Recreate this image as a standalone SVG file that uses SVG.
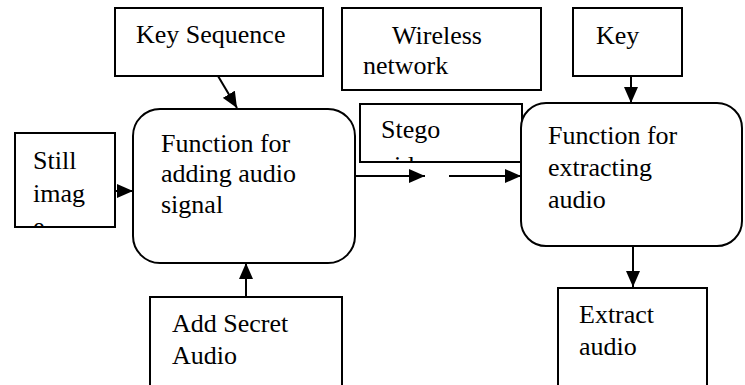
<svg xmlns="http://www.w3.org/2000/svg" width="745" height="385" viewBox="0 0 745 385">
<style>
.box{fill:#fff;stroke:#000;stroke-width:2}
.t{font-family:'Liberation Serif','Times New Roman',Times,'DejaVu Serif',serif;font-size:26px;fill:#000}
.c{fill:none;stroke:#000;stroke-width:2;marker-end:url(#ah)}
</style>
<defs>
<marker id="ah" markerUnits="userSpaceOnUse" markerWidth="16" markerHeight="14" refX="16" refY="7" orient="auto">
<path d="M0,0 L16,7 L0,14 z" fill="#000"/>
</marker>
<clipPath id="clipStill"><rect x="16" y="134" width="98" height="92"/></clipPath>
<clipPath id="clipStego"><rect x="361" y="105" width="160" height="56"/></clipPath>
</defs>
<g id="key-sequence">
<rect class="box" x="115" y="8" width="208" height="68"/>
<text class="t" font-family="Liberation Serif, serif" x="136" y="43">Key Sequence</text>
</g>
<g id="wireless-network">
<rect class="box" x="342" y="8" width="199" height="82"/>
<text class="t" x="392" y="44">Wireless</text>
<text class="t" x="363" y="74">network</text>
</g>
<g id="key">
<rect class="box" x="573" y="8" width="109" height="68"/>
<text class="t" x="596" y="44">Key</text>
</g>
<g id="still-image">
<rect class="box" x="15" y="133" width="100" height="94"/>
<g clip-path="url(#clipStill)">
<text class="t" x="33" y="169">Still</text>
<text class="t" x="33" y="202">imag</text>
<text class="t" x="33" y="235">e</text>
</g>
</g>
<g id="adding-function">
<rect class="box" x="133" y="109" width="222" height="154" rx="27" ry="27"/>
<text class="t" x="161" y="152">Function for</text>
<text class="t" x="161" y="182">adding audio</text>
<text class="t" x="161" y="213">signal</text>
</g>
<g id="stego">
<rect class="box" x="360" y="104" width="162" height="58"/>
<g clip-path="url(#clipStego)">
<text class="t" x="381" y="138">Stego</text>
<text class="t" x="381" y="174">video</text>
</g>
</g>
<g id="extracting-function">
<rect class="box" x="521" y="103" width="221" height="143" rx="25" ry="25"/>
<text class="t" x="548" y="144">Function for</text>
<text class="t" x="548" y="176">extracting</text>
<text class="t" x="548" y="208">audio</text>
</g>
<g id="add-secret-audio">
<rect class="box" x="150" y="297" width="192" height="100"/>
<text class="t" x="172" y="332">Add Secret</text>
<text class="t" x="172" y="364">Audio</text>
</g>
<g id="extract-audio">
<rect class="box" x="558" y="288" width="149" height="110"/>
<text class="t" x="579" y="323">Extract</text>
<text class="t" x="579" y="355">audio</text>
</g>
<g id="connectors">
<line class="c" x1="218" y1="76" x2="237" y2="108"/>
<line class="c" x1="631" y1="76" x2="631" y2="103"/>
<line class="c" x1="115" y1="191" x2="133" y2="191"/>
<line class="c" x1="246" y1="297" x2="246" y2="263"/>
<line class="c" x1="355" y1="176" x2="425" y2="176"/>
<line class="c" x1="449" y1="176" x2="521" y2="176"/>
<line class="c" x1="633" y1="246" x2="633" y2="287"/>
</g>
</svg>
